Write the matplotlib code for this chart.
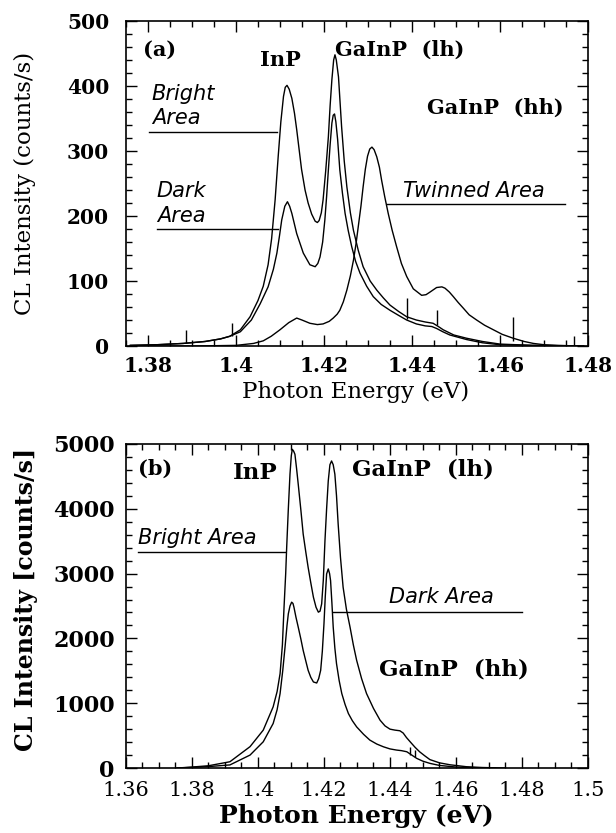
import numpy as np
import matplotlib
matplotlib.use("Agg")
import matplotlib.pyplot as plt
from matplotlib.ticker import MultipleLocator, FixedLocator

# ---- panel (a) data: CL spectra (energy eV, counts/s) ----
a_bright_e = [1.376, 1.382, 1.388, 1.393, 1.3965, 1.3986, 1.4010, 1.4032, 1.4050, 1.4062,
              1.4073, 1.4081, 1.4089, 1.4096, 1.4102, 1.4108, 1.4112, 1.4116, 1.4121, 1.4127,
              1.4133, 1.4138, 1.4149, 1.4157, 1.4164, 1.4172, 1.4180, 1.4185, 1.4189, 1.4194,
              1.4198, 1.4204, 1.4210, 1.4214, 1.4218, 1.4222, 1.4225, 1.4228, 1.4233, 1.4240,
              1.4246, 1.4252, 1.4260, 1.4267, 1.4278, 1.4289, 1.4305, 1.4320, 1.4335, 1.4350,
              1.4370, 1.4388, 1.4410, 1.4430, 1.4448, 1.4460, 1.4471, 1.4495, 1.4524, 1.456,
              1.460, 1.4675, 1.479]
a_bright_i = [1, 2, 4, 7, 11, 15, 25, 45, 70, 92,
              125, 165, 225, 292, 345, 384, 398, 401, 395, 381,
              358, 333, 272, 240, 220, 203, 192, 190, 193, 205,
              225, 270, 322, 370, 410, 440, 448, 440, 414, 338,
              285, 245, 205, 178, 147, 122, 100, 86, 74, 63,
              53, 45, 40, 37, 35, 30, 25, 17, 12, 7,
              3, 1, 0]

a_dark_e = [1.376, 1.382, 1.388, 1.393, 1.3965, 1.3986, 1.4010, 1.4035, 1.4055, 1.4073,
            1.4085, 1.4093, 1.4099, 1.4104, 1.4111, 1.4117, 1.4122, 1.4127, 1.4138, 1.4153,
            1.4168, 1.4180, 1.4186, 1.4191, 1.4197, 1.4202, 1.4206, 1.4210, 1.4214, 1.4218,
            1.4221, 1.4224, 1.4227, 1.4231, 1.4236, 1.4242, 1.4248, 1.4255, 1.4263, 1.4272,
            1.4282, 1.4297, 1.4312, 1.4330, 1.4350, 1.4370, 1.4388, 1.4410, 1.4430, 1.4445,
            1.4456, 1.4470, 1.4486, 1.4524, 1.456, 1.460, 1.467, 1.479]
a_dark_i = [1, 2, 4, 7, 11, 15, 22, 40, 65, 91,
            118, 143, 170, 194, 215, 222, 215, 204, 173, 143,
            125, 122, 127, 137, 160, 194, 230, 271, 310, 343,
            355, 357, 345, 318, 271, 235, 204, 178, 153, 130,
            112, 92, 76, 64, 55, 47, 40, 34, 31, 30,
            27, 22, 17, 10, 5, 2, 1, 0]

a_twin_e = [1.376, 1.390, 1.400, 1.4040, 1.4062, 1.4080, 1.4100, 1.4120, 1.4138, 1.4150,
            1.4168, 1.4185, 1.4198, 1.4212, 1.4221, 1.4230, 1.4236, 1.4244, 1.4252, 1.4260,
            1.4267, 1.4273, 1.4278, 1.4284, 1.4289, 1.4294, 1.4299, 1.4304, 1.4309, 1.4314,
            1.4320, 1.4326, 1.4331, 1.4338, 1.4346, 1.4355, 1.4365, 1.4376, 1.4388, 1.4403,
            1.4422, 1.4432, 1.4441, 1.4456, 1.4468, 1.4475, 1.4485, 1.4494, 1.4505, 1.4517,
            1.4530, 1.4547, 1.4565, 1.4585, 1.4605, 1.4630, 1.4655, 1.4676, 1.4700, 1.4733,
            1.478]
a_twin_i = [0, 0, 1, 4, 8, 15, 25, 36, 43, 40,
            35, 33, 34, 38, 43, 49, 55, 68, 86, 108,
            132, 158, 184, 215, 245, 272, 292, 303, 306, 302,
            291, 275, 255, 230, 204, 178, 153, 127, 107, 88,
            78, 79, 83, 90, 91, 89, 83, 76, 67, 58,
            48, 40, 32, 25, 18, 12, 7, 4, 2, 1,
            0]

# cosmic-ray spikes in panel (a)
a_spike_e = [1.3886, 1.3990, 1.4388, 1.4457, 1.4630, 1.4768]
a_spike_lo = [4, 15, 42, 33, 8, 1]
a_spike_hi = [25, 36, 74, 56, 44, 15]

# ---- panel (b) data ----
b_bright_e = [1.3755, 1.380, 1.385, 1.3915, 1.3976, 1.4016, 1.4046, 1.4058, 1.4067, 1.4074,
              1.4079, 1.4084, 1.4087, 1.4092, 1.4097, 1.4101, 1.4104, 1.4108, 1.4112, 1.4117,
              1.4122, 1.4130, 1.4137, 1.4145, 1.4152, 1.4160, 1.4168, 1.4176, 1.4183, 1.4188,
              1.4193, 1.4198, 1.4203, 1.4208, 1.4213, 1.4218, 1.4223, 1.4228, 1.4233, 1.4238,
              1.4243, 1.4250, 1.4258, 1.4268, 1.4279, 1.4289, 1.4299, 1.4314, 1.4329, 1.4350,
              1.4370, 1.4385, 1.4400, 1.4415, 1.4430, 1.4440, 1.4450, 1.4462, 1.4476, 1.4490,
              1.4505, 1.4521, 1.4550, 1.4582, 1.4632, 1.468, 1.475]
b_bright_i = [0, 15, 35, 97, 330, 585, 944, 1180, 1457, 1900,
              2482, 3000, 3405, 4000, 4534, 4820, 4918, 4890, 4841, 4620,
              4379, 3980, 3610, 3330, 3097, 2860, 2636, 2480, 2405, 2420,
              2533, 2900, 3508, 4000, 4431, 4680, 4738, 4680, 4534, 4200,
              3764, 3250, 2790, 2450, 2174, 1900, 1662, 1380, 1149, 920,
              738, 650, 600, 585, 575, 540, 470, 400, 320, 250,
              190, 130, 80, 50, 20, 8, 0]

b_dark_e = [1.3755, 1.380, 1.385, 1.3915, 1.3976, 1.4016, 1.4046, 1.4058, 1.4067, 1.4075,
            1.4082, 1.4088, 1.4092, 1.4097, 1.4102, 1.4106, 1.4109, 1.4115, 1.4122, 1.4130,
            1.4137, 1.4145, 1.4152, 1.4160, 1.4168, 1.4178, 1.4184, 1.4190, 1.4195, 1.4200,
            1.4204, 1.4208, 1.4213, 1.4217, 1.4220, 1.4224, 1.4228, 1.4233, 1.4238, 1.4246,
            1.4254, 1.4264, 1.4274, 1.4286, 1.4299, 1.4320, 1.4339, 1.4360, 1.4380, 1.4400,
            1.4420, 1.4435, 1.4451, 1.4466, 1.4481, 1.4500, 1.4521, 1.455, 1.460, 1.466,
            1.472]
b_dark_i = [0, 10, 22, 48, 200, 405, 687, 900, 1149, 1500,
            1866, 2200, 2380, 2500, 2559, 2540, 2482, 2330, 2174, 1990,
            1815, 1650, 1508, 1400, 1328, 1312, 1380, 1508, 1800, 2226,
            2650, 2995, 3072, 3000, 2892, 2550, 2174, 1850, 1611, 1350,
            1149, 980, 841, 730, 635, 520, 431, 370, 328, 295,
            277, 268, 251, 200, 149, 105, 72, 40, 15, 5,
            0]

b_spike_e = [1.4462, 1.4476]
b_spike_lo = [200, 175]
b_spike_hi = [330, 280]

serif = "DejaVu Serif"
hand = dict(family="DejaVu Sans", style="italic", fontsize=15)

fig = plt.figure(figsize=(6.16, 8.33), dpi=100)
ax1 = fig.add_axes([0.2045, 0.5846, 0.75, 0.3902])
ax2 = fig.add_axes([0.2045, 0.078, 0.75, 0.389])

lw = 1.0
for ax in (ax1, ax2):
    for s in ax.spines.values():
        s.set_linewidth(1.2)
    ax.tick_params(which="both", direction="in", top=True, right=True, width=1.0)
    ax.tick_params(which="major", length=8)
    ax.tick_params(which="minor", length=4)

# ---------- panel (a) ----------
ax1.plot(a_bright_e, a_bright_i, color="black", lw=lw)
ax1.plot(a_dark_e, a_dark_i, color="black", lw=lw)
ax1.plot(a_twin_e, a_twin_i, color="black", lw=lw)
ax1.vlines(a_spike_e, a_spike_lo, a_spike_hi, color="black", lw=1.0)

ax1.set_xlim(1.375, 1.48)
ax1.set_ylim(0, 500)
ax1.xaxis.set_major_locator(FixedLocator([1.38, 1.40, 1.42, 1.44, 1.46, 1.48]))
ax1.set_xticklabels(["1.38", "1.4", "1.42", "1.44", "1.46", "1.48"])
ax1.xaxis.set_minor_locator(MultipleLocator(0.005))
ax1.yaxis.set_major_locator(MultipleLocator(100))
ax1.yaxis.set_minor_locator(MultipleLocator(20))
for lab in ax1.get_xticklabels() + ax1.get_yticklabels():
    lab.set_fontfamily(serif)
    lab.set_fontweight("bold")
    lab.set_fontsize(14.5)
ax1.tick_params(axis="x", pad=7)
ax1.tick_params(axis="y", pad=12)

ax1.set_ylabel("CL Intensity (counts/s)", family=serif, fontsize=16.5)
ax1.set_xlabel("Photon Energy (eV)", family=serif, fontsize=16.5)
ax1.yaxis.set_label_coords(-0.195, 0.5)
ax1.xaxis.set_label_coords(0.498, -0.14)
ax1.xaxis.label.set_va("center")

bold = dict(family=serif, fontweight="bold", fontsize=15)
ax1.text(1.3789, 456, "(a)", va="center", ha="left", **bold)
ax1.text(1.4100, 440, "InP", va="center", ha="center", **bold)
ax1.text(1.4225, 456, "GaInP  (lh)", va="center", ha="left", **bold)
ax1.text(1.4434, 367, "GaInP  (hh)", va="center", ha="left", **bold)

ax1.text(1.3809, 378, "Bright", va="baseline", ha="left", **hand)
ax1.text(1.3809, 341, "Area", va="baseline", ha="left", **hand)
ax1.plot([1.3802, 1.4093], [329, 329], color="black", lw=lw)
ax1.text(1.3820, 229, "Dark", va="baseline", ha="left", **hand)
ax1.text(1.3820, 191, "Area", va="baseline", ha="left", **hand)
ax1.plot([1.3820, 1.4096], [180, 180], color="black", lw=lw)
ax1.text(1.4380, 229, "Twinned Area", va="baseline", ha="left", **hand)
ax1.plot([1.4343, 1.4748], [218, 218], color="black", lw=lw)

# ---------- panel (b) ----------
ax2.plot(b_bright_e, b_bright_i, color="black", lw=lw)
ax2.plot(b_dark_e, b_dark_i, color="black", lw=lw)
ax2.vlines(b_spike_e, b_spike_lo, b_spike_hi, color="black", lw=1.0)

ax2.set_xlim(1.36, 1.50)
ax2.set_ylim(0, 5000)
ax2.xaxis.set_major_locator(FixedLocator([1.36, 1.38, 1.40, 1.42, 1.44, 1.46, 1.48, 1.50]))
ax2.set_xticklabels(["1.36", "1.38", "1.4", "1.42", "1.44", "1.46", "1.48", "1.5"])
ax2.xaxis.set_minor_locator(MultipleLocator(0.005))
ax2.yaxis.set_major_locator(MultipleLocator(1000))
ax2.yaxis.set_minor_locator(MultipleLocator(200))
for lab in ax2.get_xticklabels():
    lab.set_fontfamily(serif)
    lab.set_fontsize(15)
for lab in ax2.get_yticklabels():
    lab.set_fontfamily(serif)
    lab.set_fontweight("bold")
    lab.set_fontsize(16)
ax2.tick_params(axis="x", pad=9)
ax2.tick_params(axis="y", pad=8)

ax2.set_ylabel("CL Intensity [counts/s]", family=serif, fontweight="bold", fontsize=17)
ax2.set_xlabel("Photon Energy (eV)", family=serif, fontweight="bold", fontsize=18)
ax2.yaxis.set_label_coords(-0.19, 0.52)
ax2.xaxis.set_label_coords(0.498, -0.148)
ax2.xaxis.label.set_va("center")

bold_b = dict(family=serif, fontweight="bold", fontsize=16.5)
ax2.text(1.3636, 4615, "(b)", va="center", ha="left", family=serif, fontweight="bold", fontsize=15)
ax2.text(1.3924, 4554, "InP", va="center", ha="left", **bold_b)
ax2.text(1.4285, 4600, "GaInP  (lh)", va="center", ha="left", **bold_b)
ax2.text(1.4367, 1523, "GaInP  (hh)", va="center", ha="left", **bold_b)

ax2.text(1.3636, 3460, "Bright Area", va="baseline", ha="left", **hand)
ax2.plot([1.3636, 1.4082], [3330, 3330], color="black", lw=lw)
ax2.text(1.4397, 2540, "Dark Area", va="baseline", ha="left", **hand)
ax2.plot([1.4228, 1.4800], [2405, 2405], color="black", lw=lw)

fig.savefig("out.png", dpi=100)
